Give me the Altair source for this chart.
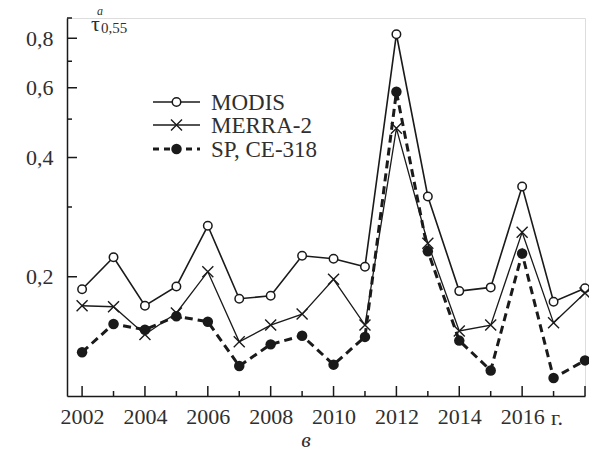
import altair as alt
import pandas as pd

# ---- data ----
years = list(range(2002, 2019))
modis = [0.186, 0.224, 0.169, 0.189, 0.269, 0.176, 0.179, 0.226, 0.222, 0.212,
         0.819, 0.319, 0.184, 0.188, 0.338, 0.173, 0.187]
merra = [0.169, 0.168, 0.143, 0.162, 0.206, 0.137, 0.151, 0.161, 0.197, 0.151,
         0.474, 0.243, 0.146, 0.151, 0.259, 0.153, 0.182]
sp = [0.129, 0.152, 0.147, 0.159, 0.154, 0.119, 0.135, 0.142, 0.120, 0.141,
      0.586, 0.232, 0.138, 0.116, 0.229, 0.111, 0.123]
series_names = ["MODIS", "MERRA-2", "SP, CE-318"]

y_major = [0.2, 0.4, 0.6, 0.8]
y_minor = [0.3, 0.5, 0.7, 0.9]
x_label_years = [2002, 2004, 2006, 2008, 2010, 2012, 2014, 2016]
x_major_ticks = [2002, 2004, 2006, 2008, 2010, 2012, 2014, 2016, 2018]
x_minor_ticks = [2003, 2005, 2007, 2009, 2011, 2013, 2015, 2017]
year_unit = "г."
panel_letter = "в"
y_title = ["τ", "a", "0,55"]

# ---- layout / style ----
W, H = 518, 378
FONT = "'Liberation Serif', 'DejaVu Serif', serif"
INK = "#1a1a1a"
TXT = "#2f2f2f"
X_PATH = "M-1,-1L1,1M-1,1L1,-1"

rows = []
for name, vals in zip(series_names, [modis, merra, sp]):
    for yr, v in zip(years, vals):
        rows.append({"year": yr, "v": v, "s": name})
df = pd.DataFrame(rows)

xs = alt.Scale(domain=[2001.52, 2018], nice=False, zero=False)
ys = alt.Scale(type="log", domain=[0.1, 0.9], nice=False)

xax = alt.Axis(
    values=x_label_years, format="d", ticks=False, tickSize=0, grid=False,
    domainColor=INK, domainWidth=1.5, labelFont=FONT, labelFontSize=22,
    labelColor=TXT, labelPadding=10, labelFlush=False, labelOverlap=False, title=None)
yax = alt.Axis(
    values=y_major, labelExpr="replace(format(datum.value, '.1f'), '.', ',')",
    ticks=False, tickSize=0, grid=False, domainColor=INK, domainWidth=1.5,
    labelFont=FONT, labelFontSize=22, labelColor=TXT, labelPadding=14, title=None)

base = alt.Chart(df)


def X(field="year"):
    return alt.X(f"{field}:Q", scale=xs, axis=xax)


def Y(field="v"):
    return alt.Y(f"{field}:Q", scale=ys, axis=yax)


def yticks(vals, length):
    return alt.Chart(pd.DataFrame({"v": vals})).mark_rule(color=INK, strokeWidth=1.5).encode(
        y=Y(), x=alt.value(0), x2=alt.value(length))


def xticks(vals, length):
    return alt.Chart(pd.DataFrame({"year": vals})).mark_rule(color=INK, strokeWidth=1.5).encode(
        x=X(), y=alt.value(H), y2=alt.value(H - length))


def enc():
    return dict(x=X(), y=Y())


modis_line = base.transform_filter(alt.datum.s == "MODIS").mark_line(
    color=INK, strokeWidth=1.6).encode(**enc())
merra_line = base.transform_filter(alt.datum.s == "MERRA-2").mark_line(
    color=INK, strokeWidth=1.3).encode(**enc())
sp_line = base.transform_filter(alt.datum.s == "SP, CE-318").mark_line(
    color=INK, strokeWidth=3, strokeDash=[8, 5]).encode(**enc())

modis_pts = base.transform_filter(alt.datum.s == "MODIS").mark_point(
    shape="circle", size=72, filled=True, fill="white", stroke=INK, strokeWidth=1.5,
    opacity=1).encode(**enc())
merra_pts = base.transform_filter(alt.datum.s == "MERRA-2").mark_point(
    shape=X_PATH, size=121, stroke=INK, strokeWidth=1.4, opacity=1).encode(**enc())
sp_pts = base.transform_filter(alt.datum.s == "SP, CE-318").mark_point(
    shape="circle", size=110, filled=True, color=INK, opacity=1).encode(**enc())


def txt(t, x, y, size, align="center", baseline="middle", style="normal"):
    return alt.Chart(pd.DataFrame({"t": [t]})).mark_text(
        font=FONT, fontSize=size, align=align, baseline=baseline, fontStyle=style,
        color=TXT).encode(text="t:N", x=alt.value(x), y=alt.value(y))


# legend
leg = []
leg_y = [84, 107, 131]
for i, name in enumerate(series_names):
    yv = leg_y[i]
    d = pd.DataFrame({"t": [name]})
    if i < 2:
        line = alt.Chart(d).mark_rule(color=INK, strokeWidth=1.6 if i == 0 else 1.3).encode(
            x=alt.value(86), x2=alt.value(133), y=alt.value(yv))
    else:
        line = alt.Chart(d).mark_rule(color=INK, strokeWidth=3, strokeDash=[6, 5]).encode(
            x=alt.value(86), x2=alt.value(133), y=alt.value(yv))
    if i == 0:
        pt = alt.Chart(d).mark_point(shape="circle", size=72, filled=True, fill="white",
                                     stroke=INK, strokeWidth=1.5, opacity=1)
    elif i == 1:
        pt = alt.Chart(d).mark_point(shape=X_PATH, size=121, stroke=INK, strokeWidth=1.4, opacity=1)
    else:
        pt = alt.Chart(d).mark_point(shape="circle", size=110, filled=True, color=INK, opacity=1)
    pt = pt.encode(x=alt.value(109.5), y=alt.value(yv))
    leg += [line, pt, txt(name, 144, yv + 1, 23, align="left")]

chart = alt.layer(
    yticks(y_major, 10), yticks(y_minor, 5),
    xticks(x_major_ticks, 10), xticks(x_minor_ticks, 5),
    modis_line, merra_line, sp_line,
    modis_pts, merra_pts, sp_pts,
    *leg,
    txt(y_title[0], 28.5, 6, 22),
    txt(y_title[1], 33, -3, 12, baseline="alphabetic", style="italic"),
    txt(y_title[2], 34, 10, 15, align="left"),
    txt(year_unit, 490, 400, 22),
    txt(panel_letter, 239, 422, 22, style="italic"),
).properties(
    width=W, height=H,
    autosize=alt.AutoSizeParams(type="none"),
    padding={"left": 59, "top": 10, "right": 4, "bottom": 56},
).configure_view(stroke=None).configure(background="white")

chart.save("out.html", embed_options={"renderer": "svg", "actions": False})
